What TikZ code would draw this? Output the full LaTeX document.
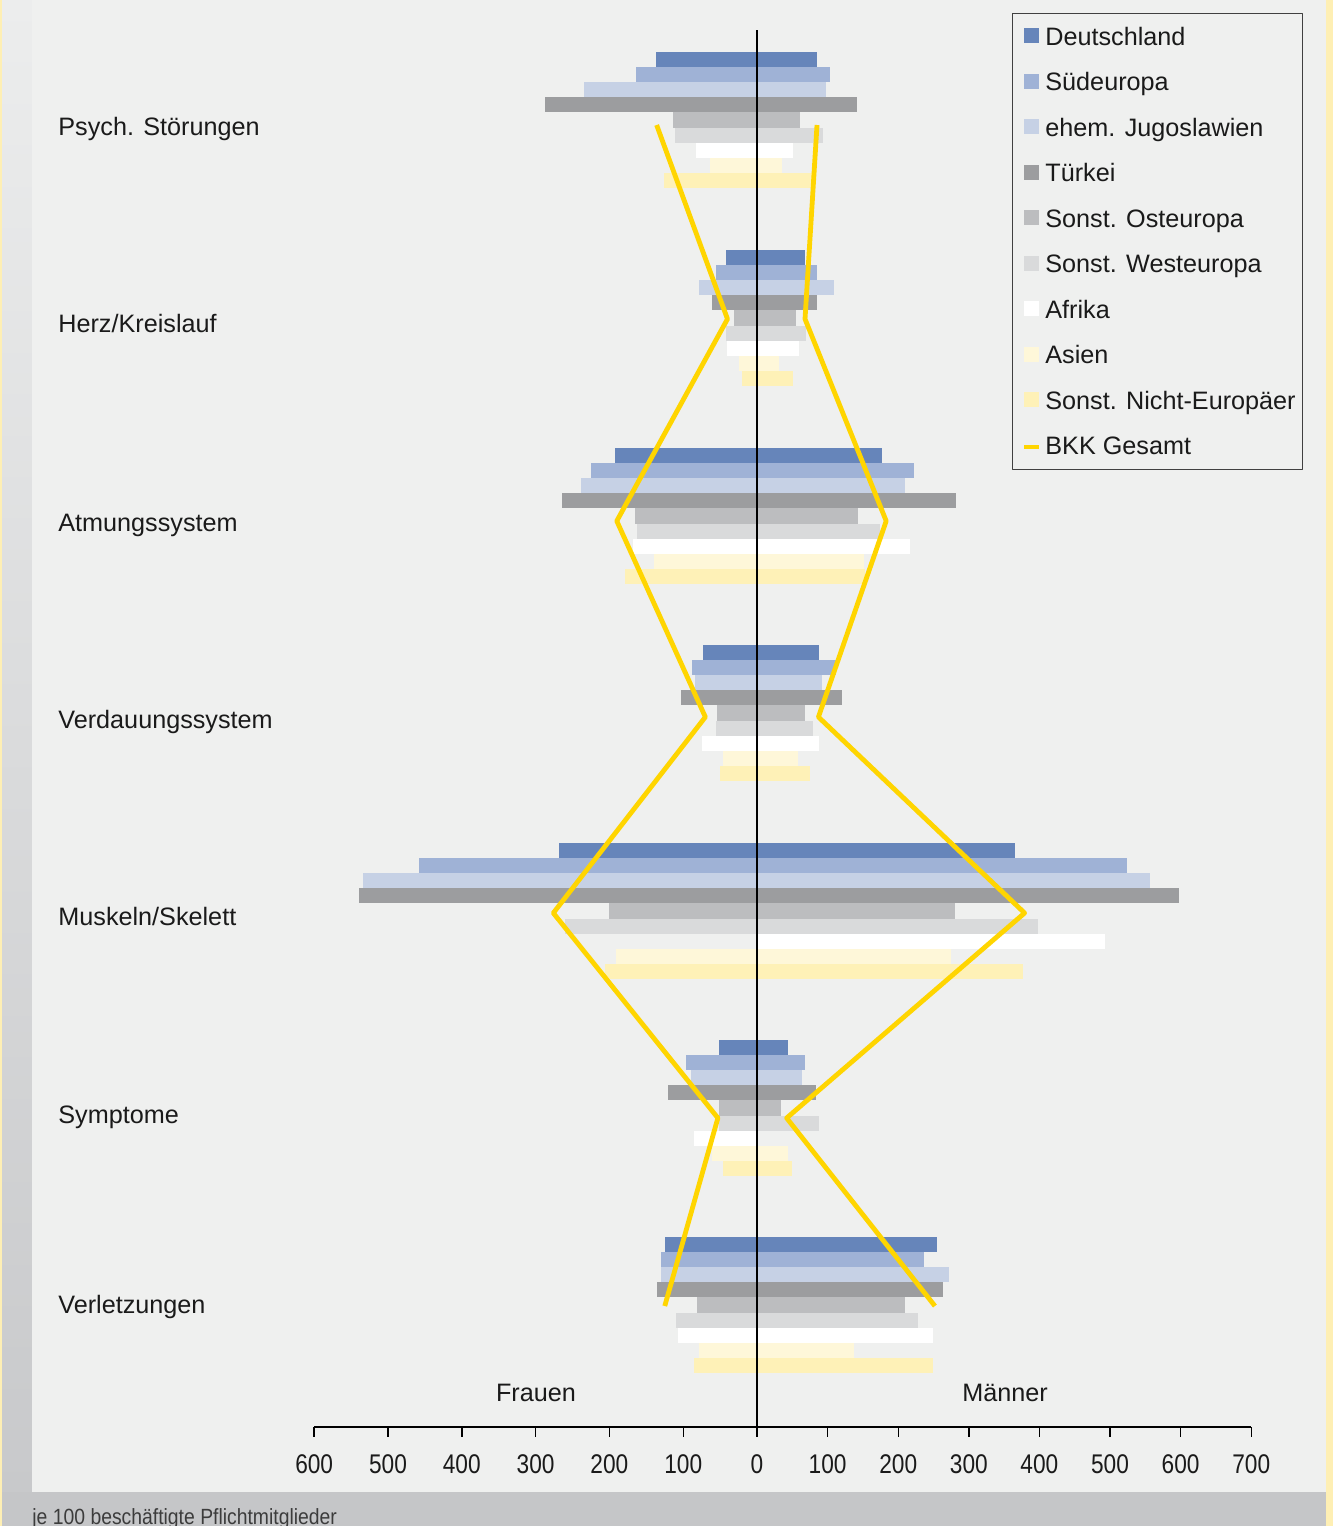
\documentclass[tikz,border=0pt]{standalone}
\usepackage{fontspec}
\setmainfont{Liberation Sans}

\definecolor{barc0}{HTML}{6685BA}
\definecolor{barc1}{HTML}{9FB2D6}
\definecolor{barc2}{HTML}{C6D1E5}
\definecolor{barc3}{HTML}{9C9D9F}
\definecolor{barc4}{HTML}{BCBDBF}
\definecolor{barc5}{HTML}{D9DADB}
\definecolor{barc6}{HTML}{FFFFFF}
\definecolor{barc7}{HTML}{FEF7D9}
\definecolor{barc8}{HTML}{FEF1B7}
\definecolor{bkkyellow}{HTML}{FFD500}
\definecolor{chartbg}{HTML}{EFF0EF}
\definecolor{edgeyellow}{HTML}{FEEFB4}
\definecolor{footgray}{HTML}{C5C6C8}
\definecolor{striptop}{HTML}{ECEDED}
\definecolor{stripbot}{HTML}{C8C9CB}
\definecolor{txtblack}{HTML}{1A1A1A}

\begin{document}
\begin{tikzpicture}[
        x = 0.5pt, y = -0.5pt,
        line join=round,
        bkk/.style = {line width=2.4pt, bkkyellow},
        axisline/.style = {line width=0.7pt, black},
        txt/.style = {inner sep=0pt, text=txtblack, font=\fontsize{12.6pt}{15pt}\selectfont},
        num/.style = {inner sep=0pt, anchor=base, text=txtblack, font=\fontsize{13.5pt}{15pt}\selectfont},
        foot/.style = {inner sep=0pt, anchor=base west, text=txtblack!85, font=\fontsize{11pt}{13pt}\selectfont}
    ]

    \def\xo{757}
    \def\ls{0.738}
    \def\rs{0.706}
    \def\bh{15.1}

    \useasboundingbox (0,0) rectangle (1333,1526);

    \fill[edgeyellow] (0,0) rectangle (1333,1526);
    \shade[top color=striptop, bottom color=stripbot] (2,0) rectangle (32,1492);
    \fill[chartbg] (32,0) rectangle (1326,1492);
    \fill[footgray] (2,1492) rectangle (1326,1526);

    % bars: left (Frauen) / right (Maenner)
    \foreach \top/\vals in {
        52/{137/85,164/103,234/98,287/142,114/61,111/93,83/51,64/35,126/78},
        250/{42/68,56/85,79/109,61/85,31/55,42/69,41/59,24/31,20/51},
        448/{192/177,225/222,238/210,264/282,165/143,163/174,168/217,140/152,179/153},
        645/{73/88,88/112,84/92,103/120,54/68,56/79,75/88,46/58,50/75},
        843/{268/365,458/524,534/557,539/598,201/280,260/398,0/493,191/275,206/377},
        1040/{51/44,96/68,89/64,121/84,51/34,51/88,85/0,61/44,46/50},
        1237/{125/255,130/237,130/272,136/263,81/210,110/228,107/249,79/137,85/249}} {
        \foreach \l/\r [count=\i from 0] in \vals {
            \fill[barc\i] ({\xo-\l*\ls}, {\top+\i*\bh}) rectangle ({\xo+\r*\rs}, {\top+(\i+1)*\bh});
        }
    }

    \draw[axisline] (\xo,30) -- (\xo,1427);

    \draw[bkk] ({\xo-136*\ls},125) -- ({\xo-40*\ls},319) -- ({\xo-190*\ls},521) -- ({\xo-70*\ls},717)
        -- ({\xo-276*\ls},913) -- ({\xo-53*\ls},1118) -- ({\xo-125*\ls},1306);
    \draw[bkk] ({\xo+85*\rs},125) -- ({\xo+68*\rs},319) -- ({\xo+183*\rs},521) -- ({\xo+87*\rs},717)
        -- ({\xo+379*\rs},913) -- ({\xo+42*\rs},1118) -- ({\xo+252*\rs},1306);

    \foreach \y/\t [count=\n] in {135/{Psych. Störungen}, 332/{Herz/Kreislauf}, 531/{Atmungssystem},
        728/{Verdauungssystem}, 925/{Muskeln/Skelett}, 1123/{Symptome}, 1313/{Verletzungen}} {
        \node[txt, anchor=base west] (cat\n) at (58,\y) {\t};
    }

    % legend
    \draw[line width=0.5pt, black!75] (1012,13) rectangle (1302,469);
    \foreach \t [count=\i from 0] in {Deutschland, Südeuropa, ehem. Jugoslawien, Türkei, Sonst. Osteuropa,
        Sonst. Westeuropa, Afrika, Asien, Sonst. Nicht-Europäer} {
        \fill[barc\i] (1024,{28+45.5*\i}) rectangle ++(15,15);
        \node[txt, anchor=base west] (leg\i) at (1045,{45+45.5*\i}) {\t};
    }
    \draw[bkk, line width=1.8pt] (1024,447) -- (1039,447);
    \node[txt, anchor=base west] (leg9) at (1045,454.5) {BKK Gesamt};

    \node[txt, anchor=base] (frauen) at (536,1401) {Frauen};
    \node[txt, anchor=base] (maenner) at (1005,1401) {Männer};

    % axis
    \draw[axisline] ({\xo-600*\ls},1427) -- ({\xo+700*\rs},1427);
    \foreach \v in {0,100,...,600} {
        \draw[axisline] ({\xo-\v*\ls},1427) -- ++(0,10);
        \node[num] (tl\v) at ({\xo-\v*\ls},1473) {\scalebox{0.84}[1]{\v}};
    }
    \foreach \v in {100,200,...,700} {
        \draw[axisline] ({\xo+\v*\rs},1427) -- ++(0,10);
        \node[num] (tr\v) at ({\xo+\v*\rs},1473) {\scalebox{0.84}[1]{\v}};
    }

    \node[foot] (note) at (32,1524) {\scalebox{0.88}[1]{je 100 beschäftigte Pflichtmitglieder}};

\end{tikzpicture}
\end{document}
